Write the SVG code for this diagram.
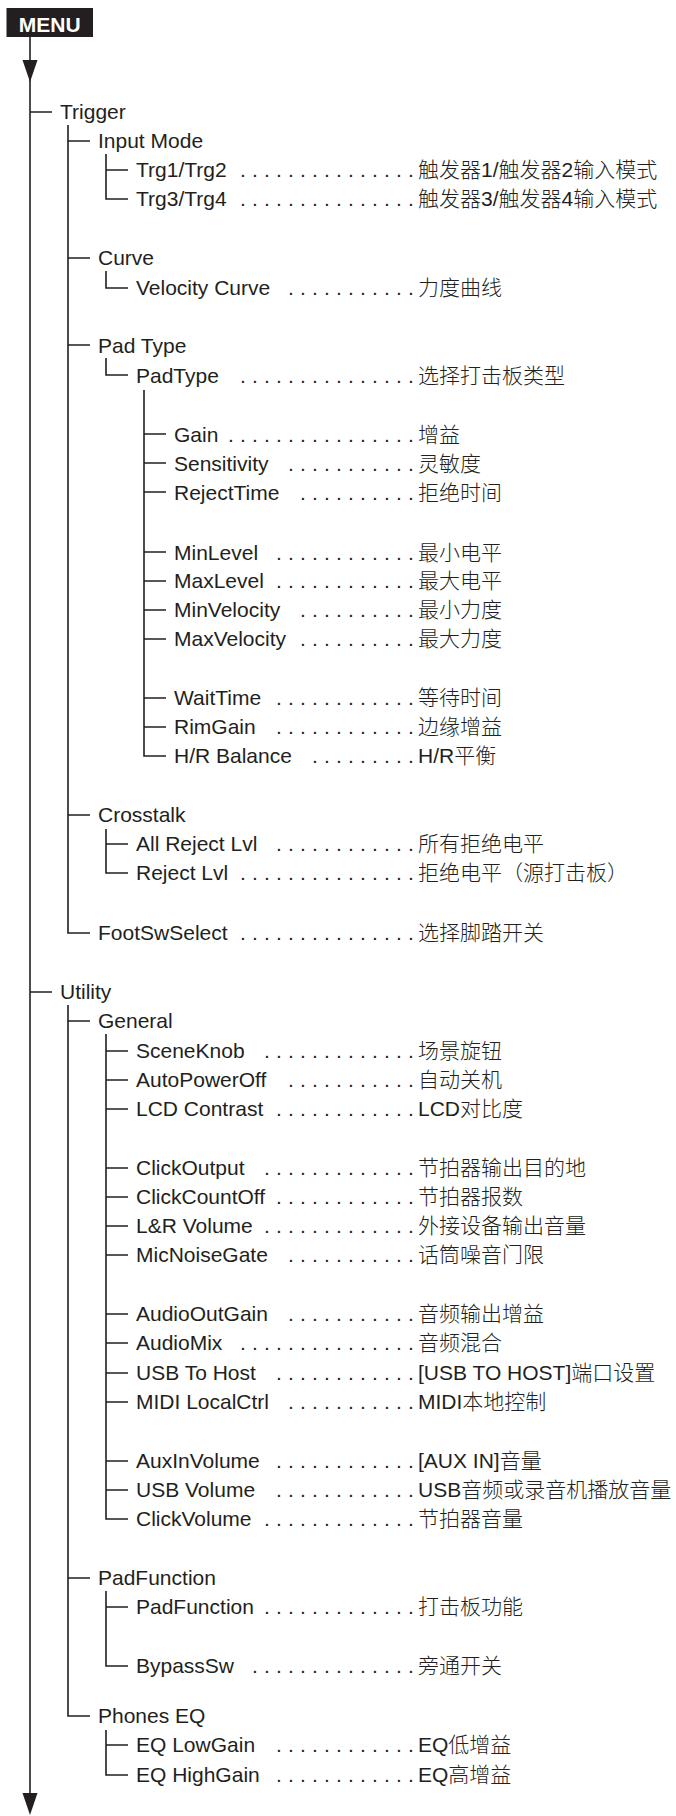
<svg xmlns="http://www.w3.org/2000/svg" width="676" height="1816" viewBox="0 0 676 1816">
<style>
.t{font-family:"Liberation Sans","Noto Sans CJK SC",sans-serif;font-size:21px;fill:#231f20}
.d{font-family:"Liberation Sans",sans-serif;font-size:21px;fill:#231f20;letter-spacing:6.16px}
.c{font-family:"Liberation Sans","Noto Sans CJK SC",sans-serif;font-size:21px;fill:#231f20;font-weight:300}
.ln{stroke:#231f20;stroke-width:1.6;fill:none}
.hd{font-family:"Liberation Sans",sans-serif;font-size:21px;font-weight:bold;fill:#fff}
</style>
<g id="menu">
<rect x="6.5" y="8" width="86.5" height="29" fill="#231f20"/>
<text class="hd" x="49.7" y="31.5" text-anchor="middle">MENU</text>
</g>
<g id="connectors" class="ln">
<path d="M30 37V1800"/>
<polygon points="22.5,60 37.5,60 30,82" fill="#231f20" stroke="none"/>
<polygon points="22.5,1793 37.5,1793 30,1815" fill="#231f20" stroke="none"/>
<path d="M30 112H52M30 992H52"/>
<path d="M68 125V933H90M68 141H90M68 258H90M68 345H90M68 815H90"/>
<path d="M106 154V199H128M106 170H128"/>
<path d="M106 271V288H128"/>
<path d="M106 358V375H128"/>
<path d="M144 390V756H166M144 434H166M144 463H166M144 492H166M144 552H166M144 581H166M144 610H166M144 639H166M144 698H166M144 727H166"/>
<path d="M106 829V873H128M106 844H128"/>
<path d="M68 1005V1716H90M68 1021H90M68 1578H90"/>
<path d="M106 1034V1519H128M106 1051H128M106 1080H128M106 1109H128M106 1168H128M106 1197H128M106 1226H128M106 1255H128M106 1314H128M106 1343H128M106 1373H128M106 1402H128M106 1461H128M106 1490H128"/>
<path d="M106 1591V1666H128M106 1607H128"/>
<path d="M106 1730V1775H128M106 1745H128"/>
</g>
<g id="trigger"><text class="t" x="60" y="119">Trigger</text></g>
<g id="input-mode"><text class="t" x="98" y="148">Input Mode</text></g>
<g id="trg12"><text class="t" x="136" y="177">Trg1/Trg2</text><text class="d" x="240.1" y="177">...............</text><text class="c" x="418" y="177">触发器1/触发器2输入模式</text></g>
<g id="trg34"><text class="t" x="136" y="206">Trg3/Trg4</text><text class="d" x="240.1" y="206">...............</text><text class="c" x="418" y="206">触发器3/触发器4输入模式</text></g>
<g id="curve"><text class="t" x="98" y="265">Curve</text></g>
<g id="velocity-curve"><text class="t" x="136" y="295">Velocity Curve</text><text class="d" x="288.1" y="295">...........</text><text class="c" x="418" y="295">力度曲线</text></g>
<g id="pad-type"><text class="t" x="98" y="353">Pad Type</text></g>
<g id="padtype"><text class="t" x="136" y="383">PadType</text><text class="d" x="240.1" y="383">...............</text><text class="c" x="418" y="383">选择打击板类型</text></g>
<g id="gain"><text class="t" x="174" y="442">Gain</text><text class="d" x="228.1" y="442">................</text><text class="c" x="418" y="442">增益</text></g>
<g id="sensitivity"><text class="t" x="174" y="471">Sensitivity</text><text class="d" x="288.1" y="471">...........</text><text class="c" x="418" y="471">灵敏度</text></g>
<g id="rejecttime"><text class="t" x="174" y="500">RejectTime</text><text class="d" x="300.1" y="500">..........</text><text class="c" x="418" y="500">拒绝时间</text></g>
<g id="minlevel"><text class="t" x="174" y="560">MinLevel</text><text class="d" x="276.1" y="560">............</text><text class="c" x="418" y="560">最小电平</text></g>
<g id="maxlevel"><text class="t" x="174" y="588">MaxLevel</text><text class="d" x="276.1" y="588">............</text><text class="c" x="418" y="588">最大电平</text></g>
<g id="minvelocity"><text class="t" x="174" y="617">MinVelocity</text><text class="d" x="300.1" y="617">..........</text><text class="c" x="418" y="617">最小力度</text></g>
<g id="maxvelocity"><text class="t" x="174" y="646">MaxVelocity</text><text class="d" x="300.1" y="646">..........</text><text class="c" x="418" y="646">最大力度</text></g>
<g id="waittime"><text class="t" x="174" y="705">WaitTime</text><text class="d" x="276.1" y="705">............</text><text class="c" x="418" y="705">等待时间</text></g>
<g id="rimgain"><text class="t" x="174" y="734">RimGain</text><text class="d" x="276.1" y="734">............</text><text class="c" x="418" y="734">边缘增益</text></g>
<g id="hr-balance"><text class="t" x="174" y="763">H/R Balance</text><text class="d" x="312.1" y="763">.........</text><text class="c" x="418" y="763">H/R平衡</text></g>
<g id="crosstalk"><text class="t" x="98" y="822">Crosstalk</text></g>
<g id="all-reject-lvl"><text class="t" x="136" y="851">All Reject Lvl</text><text class="d" x="276.1" y="851">............</text><text class="c" x="418" y="851">所有拒绝电平</text></g>
<g id="reject-lvl"><text class="t" x="136" y="880">Reject Lvl</text><text class="d" x="240.1" y="880">...............</text><text class="c" x="418" y="880">拒绝电平（源打击板）</text></g>
<g id="footswselect"><text class="t" x="98" y="940">FootSwSelect</text><text class="d" x="240.1" y="940">...............</text><text class="c" x="418" y="940">选择脚踏开关</text></g>
<g id="utility"><text class="t" x="60" y="999">Utility</text></g>
<g id="general"><text class="t" x="98" y="1028">General</text></g>
<g id="sceneknob"><text class="t" x="136" y="1058">SceneKnob</text><text class="d" x="264.1" y="1058">.............</text><text class="c" x="418" y="1058">场景旋钮</text></g>
<g id="autopoweroff"><text class="t" x="136" y="1087">AutoPowerOff</text><text class="d" x="288.1" y="1087">...........</text><text class="c" x="418" y="1087">自动关机</text></g>
<g id="lcd-contrast"><text class="t" x="136" y="1116">LCD Contrast</text><text class="d" x="276.1" y="1116">............</text><text class="c" x="418" y="1116">LCD对比度</text></g>
<g id="clickoutput"><text class="t" x="136" y="1175">ClickOutput</text><text class="d" x="264.1" y="1175">.............</text><text class="c" x="418" y="1175">节拍器输出目的地</text></g>
<g id="clickcountoff"><text class="t" x="136" y="1204">ClickCountOff</text><text class="d" x="276.1" y="1204">............</text><text class="c" x="418" y="1204">节拍器报数</text></g>
<g id="lr-volume"><text class="t" x="136" y="1233">L&amp;R Volume</text><text class="d" x="264.1" y="1233">.............</text><text class="c" x="418" y="1233">外接设备输出音量</text></g>
<g id="micnoisegate"><text class="t" x="136" y="1262">MicNoiseGate</text><text class="d" x="288.1" y="1262">...........</text><text class="c" x="418" y="1262">话筒噪音门限</text></g>
<g id="audiooutgain"><text class="t" x="136" y="1321">AudioOutGain</text><text class="d" x="288.1" y="1321">...........</text><text class="c" x="418" y="1321">音频输出增益</text></g>
<g id="audiomix"><text class="t" x="136" y="1350">AudioMix</text><text class="d" x="240.1" y="1350">...............</text><text class="c" x="418" y="1350">音频混合</text></g>
<g id="usb-to-host"><text class="t" x="136" y="1380">USB To Host</text><text class="d" x="276.1" y="1380">............</text><text class="c" x="418" y="1380">[USB TO HOST]端口设置</text></g>
<g id="midi-localctrl"><text class="t" x="136" y="1409">MIDI LocalCtrl</text><text class="d" x="288.1" y="1409">...........</text><text class="c" x="418" y="1409">MIDI本地控制</text></g>
<g id="auxinvolume"><text class="t" x="136" y="1468">AuxInVolume</text><text class="d" x="276.1" y="1468">............</text><text class="c" x="418" y="1468">[AUX IN]音量</text></g>
<g id="usb-volume"><text class="t" x="136" y="1497">USB Volume</text><text class="d" x="276.1" y="1497">............</text><text class="c" x="418" y="1497">USB音频或录音机播放音量</text></g>
<g id="clickvolume"><text class="t" x="136" y="1526">ClickVolume</text><text class="d" x="264.1" y="1526">.............</text><text class="c" x="418" y="1526">节拍器音量</text></g>
<g id="padfunction-menu"><text class="t" x="98" y="1585">PadFunction</text></g>
<g id="padfunction"><text class="t" x="136" y="1614">PadFunction</text><text class="d" x="264.1" y="1614">.............</text><text class="c" x="418" y="1614">打击板功能</text></g>
<g id="bypasssw"><text class="t" x="136" y="1673">BypassSw</text><text class="d" x="252.1" y="1673">..............</text><text class="c" x="418" y="1673">旁通开关</text></g>
<g id="phones-eq"><text class="t" x="98" y="1723">Phones EQ</text></g>
<g id="eq-lowgain"><text class="t" x="136" y="1752">EQ LowGain</text><text class="d" x="276.1" y="1752">............</text><text class="c" x="418" y="1752">EQ低增益</text></g>
<g id="eq-highgain"><text class="t" x="136" y="1782">EQ HighGain</text><text class="d" x="276.1" y="1782">............</text><text class="c" x="418" y="1782">EQ高增益</text></g>
</svg>
